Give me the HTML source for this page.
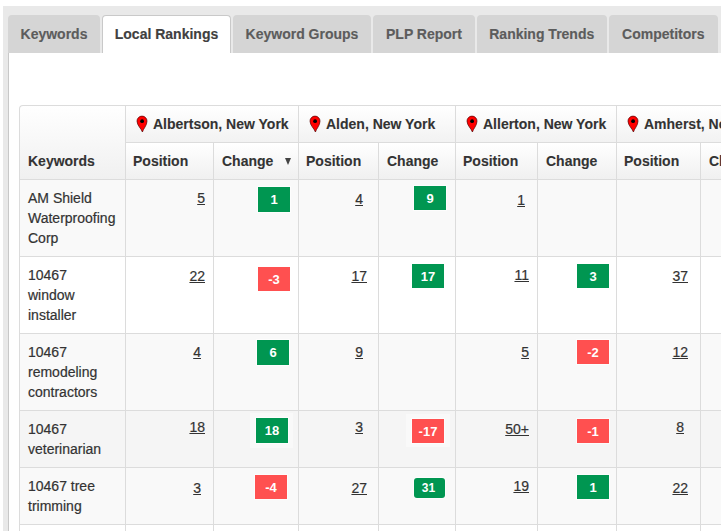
<!DOCTYPE html><html><head><meta charset="utf-8"><style>
*{margin:0;padding:0;box-sizing:border-box}
html,body{width:723px;height:532px;overflow:hidden;background:#fff;font-family:"Liberation Sans",sans-serif;font-size:14px;color:#333}
.a{position:absolute}
#outer{left:3px;top:6px;width:718px;height:525px;background:#e9e9e9}
.tab{top:15px;height:38px;background:#d5d5d5;border-radius:4px 4px 0 0;color:#5c5c5c;font-weight:bold;line-height:20px;padding-top:9px;text-align:center;white-space:nowrap;-webkit-text-stroke:0.15px currentColor}
.tab.act{background:#fff;border:1px solid #c9c9c9;border-bottom:none;color:#404040;padding-top:8px;height:39px}
#panel{left:8px;top:53px;width:713px;height:479px;background:#fff;border-left:1px solid #c8c8c8}
#tbl{left:19px;top:105px;width:702px;height:427px;border:1px solid #dcdcdc;border-right:none;border-bottom:none;border-radius:4px 0 0 0;overflow:hidden;background:#fff}
.hl{height:1px;background:#dcdcdc}
.vl{width:1px;background:#dcdcdc}
.t{line-height:20px;white-space:nowrap;-webkit-text-stroke:0.2px #333}
.b{font-weight:bold;-webkit-text-stroke:0.1px #333}
.n{-webkit-text-stroke:0.2px #333;text-decoration:underline;text-underline-offset:1px;line-height:20px;white-space:nowrap}
.bd{box-shadow:0 0 0 1px rgba(255,255,255,.6);height:24px;width:32px;color:#fff;font-size:13px;font-weight:bold;line-height:24px;text-align:center}
.g{background:#009651}
.r{background:#ff5050}
</style></head><body><div id="outer" class="a"></div>
<div class="a tab" style="left:8px;width:92px">Keywords</div>
<div class="a tab act" style="left:102px;width:129px">Local Rankings</div>
<div class="a tab" style="left:233px;width:138px">Keyword Groups</div>
<div class="a tab" style="left:373px;width:102px">PLP Report</div>
<div class="a tab" style="left:477px;width:129.5px">Ranking Trends</div>
<div class="a tab" style="left:608.5px;width:109.5px">Competitors</div>
<div id="panel" class="a"></div>
<div class="a" style="left:19px;top:105px;width:702px;height:74px;border-radius:4px 0 0 0;background:linear-gradient(#fff,#f0f0f0)"></div>
<div class="a" style="left:126px;top:143px;width:595px;height:36px;background:linear-gradient(#fff,#f0f0f0)"></div>
<div class="a" style="left:126px;top:106px;width:595px;height:36px;background:linear-gradient(#fff,#f2f2f2)"></div>
<div class="a" style="left:20px;top:180px;width:701px;height:76px;background:#f9f9f9"></div>
<div class="a" style="left:20px;top:257px;width:701px;height:76px;background:#fff"></div>
<div class="a" style="left:20px;top:334px;width:701px;height:76px;background:#f9f9f9"></div>
<div class="a" style="left:20px;top:411px;width:701px;height:56px;background:#f5f5f5"></div>
<div class="a" style="left:20px;top:468px;width:701px;height:56px;background:#f9f9f9"></div>
<div class="a" style="left:20px;top:525px;width:701px;height:7px;background:#fff"></div>
<div class="a" style="left:19px;top:105px;width:702px;height:427px;border:1px solid #dcdcdc;border-right:none;border-bottom:none;border-radius:4px 0 0 0"></div>
<div class="a hl" style="left:126px;top:142px;width:595px"></div>
<div class="a hl" style="left:20px;top:179px;width:701px"></div>
<div class="a hl" style="left:20px;top:256px;width:701px"></div>
<div class="a hl" style="left:20px;top:333px;width:701px"></div>
<div class="a hl" style="left:20px;top:410px;width:701px"></div>
<div class="a hl" style="left:20px;top:467px;width:701px"></div>
<div class="a hl" style="left:20px;top:524px;width:701px"></div>
<div class="a vl" style="left:125px;top:106px;height:426px"></div>
<div class="a vl" style="left:213px;top:143px;height:389px"></div>
<div class="a vl" style="left:298px;top:106px;height:426px"></div>
<div class="a vl" style="left:378px;top:143px;height:389px"></div>
<div class="a vl" style="left:455px;top:106px;height:426px"></div>
<div class="a vl" style="left:537px;top:143px;height:389px"></div>
<div class="a vl" style="left:616px;top:106px;height:426px"></div>
<div class="a vl" style="left:700px;top:143px;height:389px"></div>
<div class="a" style="left:136px;top:115px;width:12px;height:18px"><svg width="12" height="18" viewBox="0 0 12 18"><path d="M6.4 17 C5.4 13.6 1 10.6 1 6.1 A5 5 0 0 1 11 6.1 C11 10.6 7.4 13.6 6.4 17Z" fill="#f00" stroke="#500" stroke-width="0.7"/><circle cx="6.1" cy="6.2" r="1.9" fill="#000"/></svg></div>
<div class="a t b" style="left:153px;top:114px">Albertson, New York</div>
<div class="a" style="left:309px;top:115px;width:12px;height:18px"><svg width="12" height="18" viewBox="0 0 12 18"><path d="M6.4 17 C5.4 13.6 1 10.6 1 6.1 A5 5 0 0 1 11 6.1 C11 10.6 7.4 13.6 6.4 17Z" fill="#f00" stroke="#500" stroke-width="0.7"/><circle cx="6.1" cy="6.2" r="1.9" fill="#000"/></svg></div>
<div class="a t b" style="left:326px;top:114px">Alden, New York</div>
<div class="a" style="left:466px;top:115px;width:12px;height:18px"><svg width="12" height="18" viewBox="0 0 12 18"><path d="M6.4 17 C5.4 13.6 1 10.6 1 6.1 A5 5 0 0 1 11 6.1 C11 10.6 7.4 13.6 6.4 17Z" fill="#f00" stroke="#500" stroke-width="0.7"/><circle cx="6.1" cy="6.2" r="1.9" fill="#000"/></svg></div>
<div class="a t b" style="left:483px;top:114px">Allerton, New York</div>
<div class="a" style="left:627px;top:115px;width:12px;height:18px"><svg width="12" height="18" viewBox="0 0 12 18"><path d="M6.4 17 C5.4 13.6 1 10.6 1 6.1 A5 5 0 0 1 11 6.1 C11 10.6 7.4 13.6 6.4 17Z" fill="#f00" stroke="#500" stroke-width="0.7"/><circle cx="6.1" cy="6.2" r="1.9" fill="#000"/></svg></div>
<div class="a t b" style="left:644px;top:114px">Amherst, New York</div>
<div class="a t b" style="left:28px;top:151px">Keywords</div>
<div class="a t b" style="left:133px;top:151px">Position</div>
<div class="a t b" style="left:222px;top:151px">Change</div>
<div class="a t b" style="left:306px;top:151px">Position</div>
<div class="a t b" style="left:387px;top:151px">Change</div>
<div class="a t b" style="left:463px;top:151px">Position</div>
<div class="a t b" style="left:546px;top:151px">Change</div>
<div class="a t b" style="left:624px;top:151px">Position</div>
<div class="a t b" style="left:709px;top:151px">Change</div>
<div class="a" style="left:285px;top:158px;width:0;height:0;border-left:3.5px solid transparent;border-right:3.5px solid transparent;border-top:7px solid #444"></div>
<div class="a t" style="left:28px;top:188px">AM Shield<br>Waterproofing<br>Corp</div>
<div class="a t" style="left:28px;top:265px">10467<br>window<br>installer</div>
<div class="a t" style="left:28px;top:342px">10467<br>remodeling<br>contractors</div>
<div class="a t" style="left:28px;top:419px">10467<br>veterinarian</div>
<div class="a t" style="left:28px;top:476px">10467 tree<br>trimming</div>
<div class="a t" style="left:28px;top:533px"></div>
<div class="a n" style="right:518px;top:188px">5</div>
<div class="a n" style="right:518px;top:266px">22</div>
<div class="a n" style="right:522px;top:342px">4</div>
<div class="a n" style="right:518px;top:417px">18</div>
<div class="a n" style="right:522px;top:478px">3</div>
<div class="a n" style="right:360px;top:189px">4</div>
<div class="a n" style="right:356px;top:266px">17</div>
<div class="a n" style="right:360px;top:342px">9</div>
<div class="a n" style="right:360px;top:417px">3</div>
<div class="a n" style="right:356px;top:478px">27</div>
<div class="a n" style="right:198px;top:190px">1</div>
<div class="a n" style="right:194px;top:265px">11</div>
<div class="a n" style="right:194px;top:342px">5</div>
<div class="a n" style="right:194px;top:419px">50+</div>
<div class="a n" style="right:194px;top:476px">19</div>
<div class="a n" style="right:35px;top:266px">37</div>
<div class="a n" style="right:35px;top:342px">12</div>
<div class="a n" style="right:39px;top:417px">8</div>
<div class="a n" style="right:35px;top:478px">22</div>
<div class="a" style="left:250px;top:413px;width:43px;height:35px;background:#f9f9f9"></div>
<div class="a" style="left:406px;top:414px;width:44px;height:33px;background:#f9f9f9"></div>
<div class="a bd g" style="left:258px;top:187px;height:25px;line-height:25px">1</div>
<div class="a bd r" style="left:258px;top:267px;height:24px;line-height:26px">-3</div>
<div class="a bd g" style="left:257px;top:340px;height:25px;line-height:25px">6</div>
<div class="a bd g" style="left:256px;top:418px;height:25px;line-height:25px">18</div>
<div class="a bd r" style="left:255px;top:475px;height:24px;line-height:26px">-4</div>
<div class="a bd g" style="left:414px;top:186px;height:24px;line-height:26px">9</div>
<div class="a bd g" style="left:412px;top:264px;height:24px;line-height:26px">17</div>
<div class="a bd r" style="left:412px;top:419px;height:24px;line-height:26px">-17</div>
<div class="a bd g" style="left:577px;top:264px;height:24px;line-height:26px">3</div>
<div class="a bd r" style="left:577px;top:340px;height:24px;line-height:26px">-2</div>
<div class="a bd r" style="left:577px;top:419px;height:24px;line-height:26px">-1</div>
<div class="a bd g" style="left:577px;top:475px;height:24px;line-height:26px">1</div>
<div class="a" style="left:0;top:531px;width:723px;height:1px;background:#fff;z-index:5"></div>
<div class="a" style="left:721px;top:0;width:2px;height:532px;background:#fff;z-index:5"></div>
<div class="a bd g" style="left:414px;top:478px;width:31px;height:20px;line-height:20px;border-radius:3px;font-size:12px;padding-right:2px">31</div></body></html>
